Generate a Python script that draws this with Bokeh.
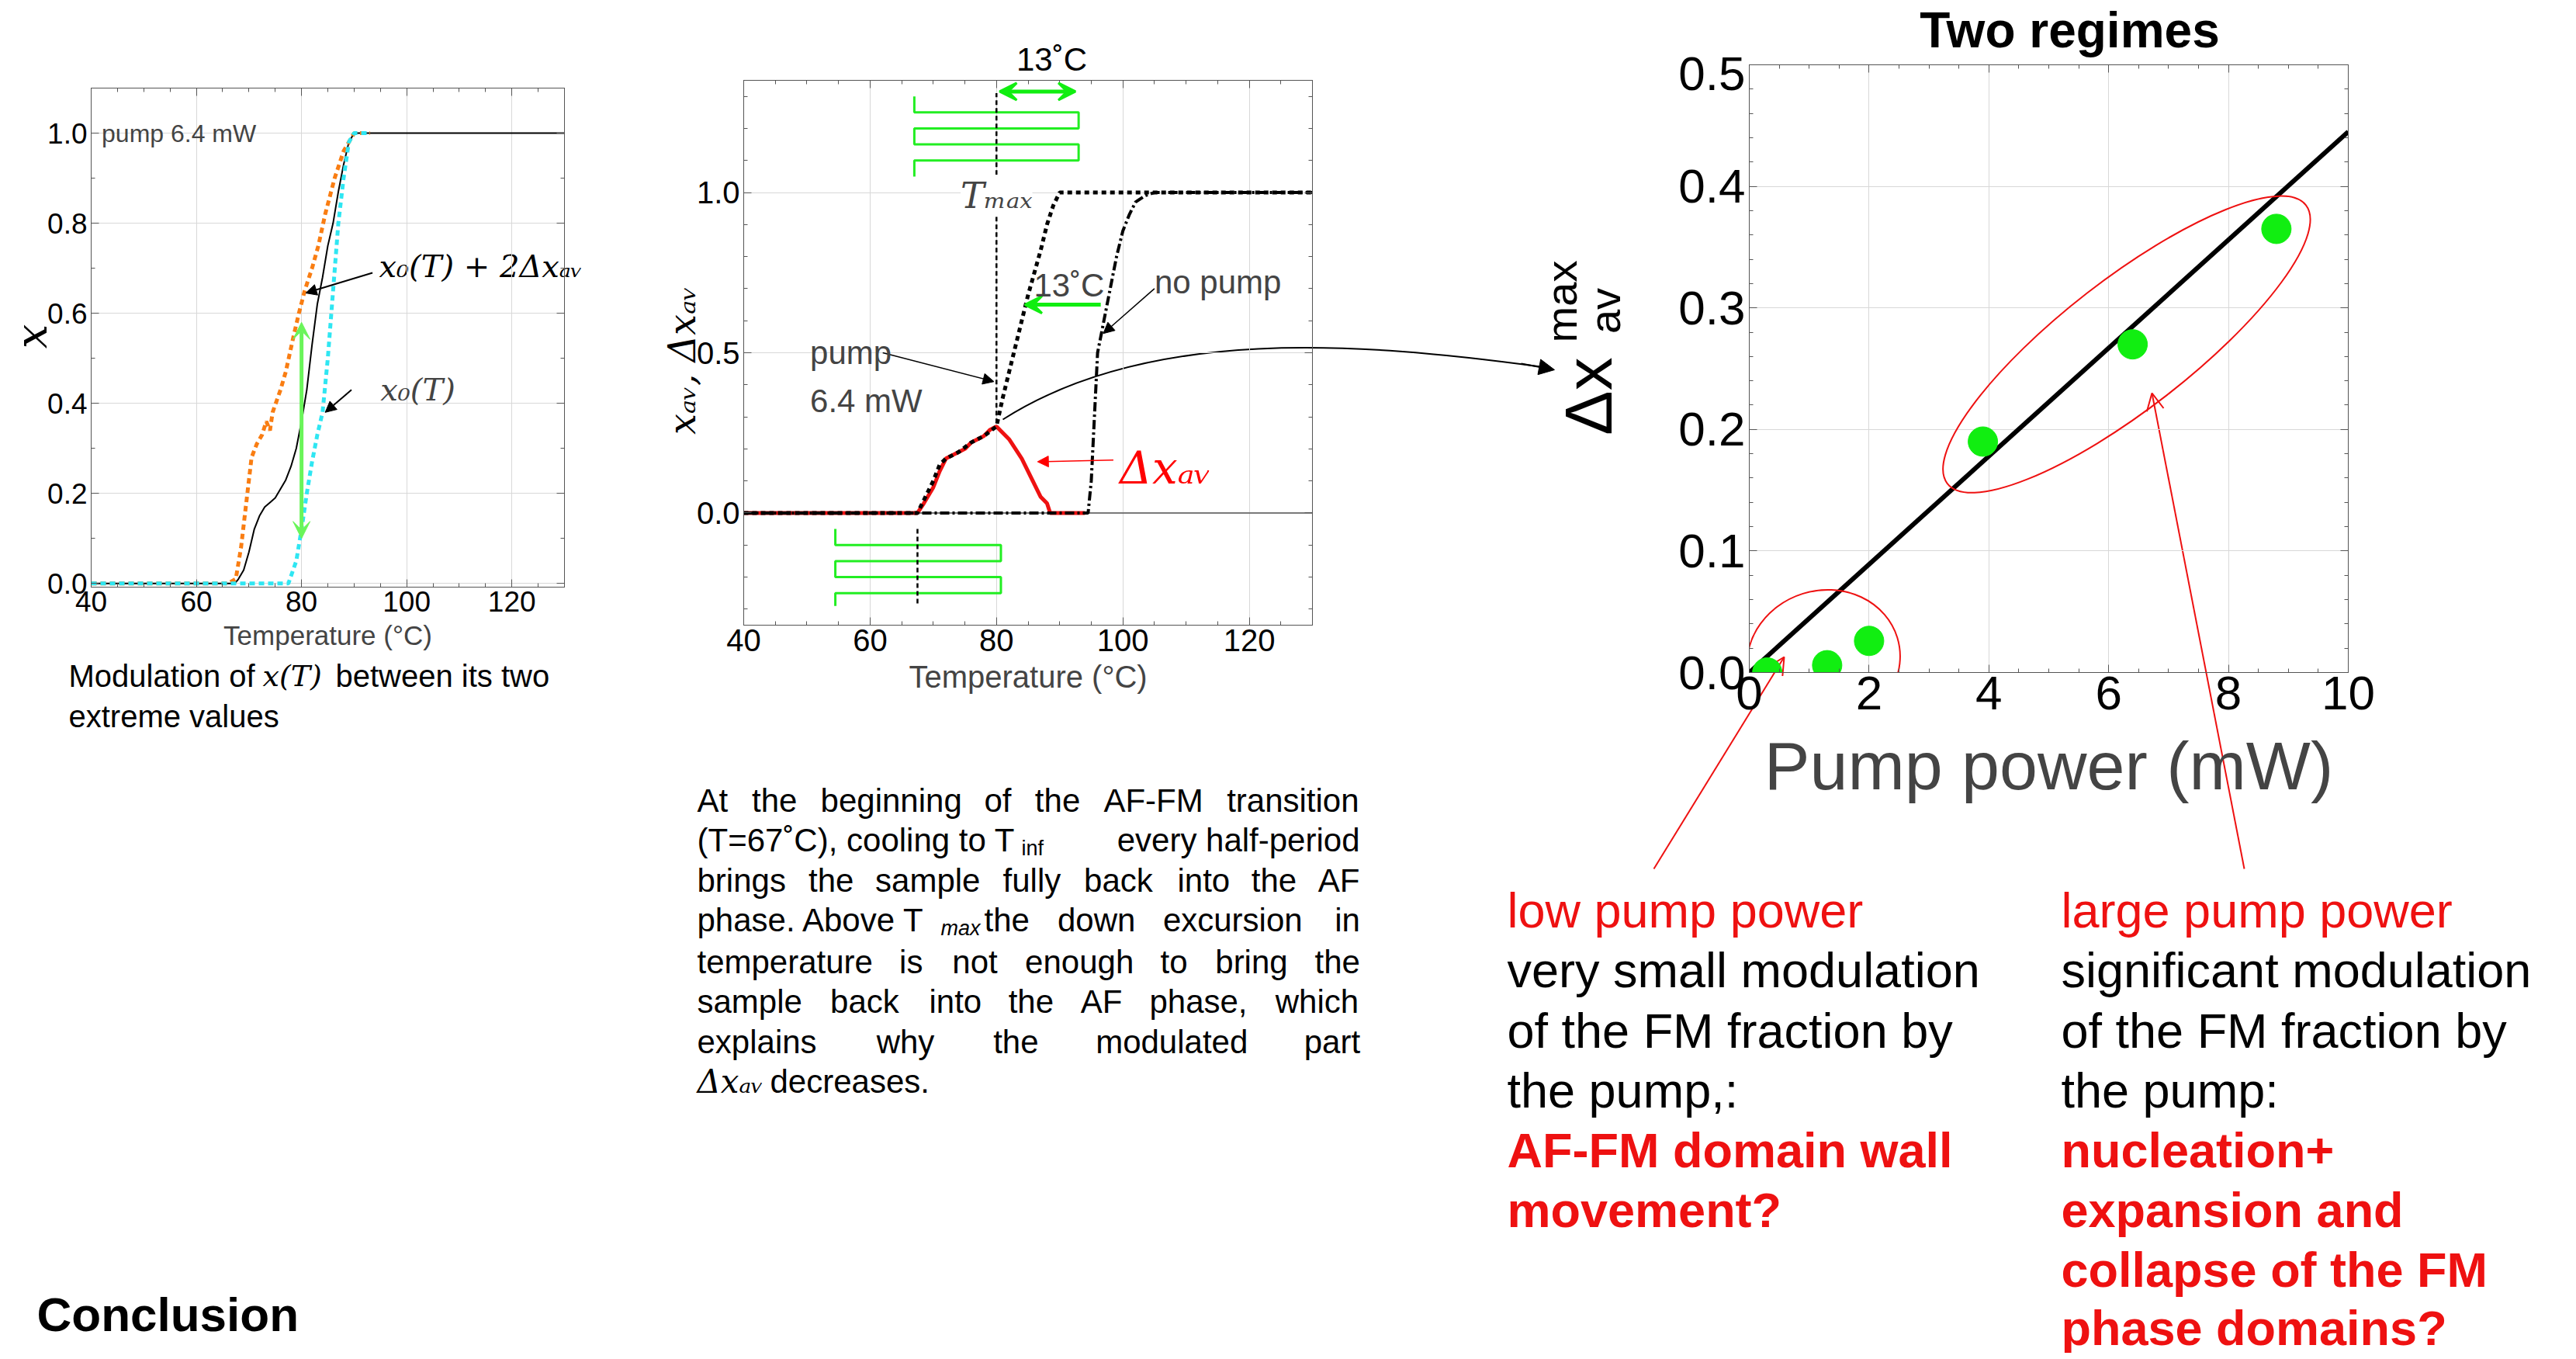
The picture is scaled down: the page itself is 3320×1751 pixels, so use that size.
import numpy as np
from bokeh.plotting import figure
from bokeh.models import (Range1d, FixedTicker, LinearAxis, Arrow, NormalHead, OpenHead,
                          VeeHead, Label, NumeralTickFormatter)
from bokeh.core.properties import value
from bokeh.embed import file_html
from bokeh.resources import INLINE

SANS = "Liberation Sans"
SERIF = "DejaVu Serif"

# ---- left panel: x(T) curves at pump 6.4 mW ----
t_x0_pump = [40, 67.3, 68, 69, 70, 71, 72, 73, 74, 75, 76, 77, 78, 79, 80, 81, 82, 83, 84, 85, 86, 87, 88, 89, 90, 130]
x_x0_pump = [0, 0, 0.01, 0.03, 0.07, 0.12, 0.15, 0.17, 0.18, 0.19, 0.21, 0.23, 0.26, 0.30, 0.36, 0.43, 0.53, 0.62, 0.68, 0.75, 0.80, 0.87, 0.93, 0.98, 1.0, 1.0]
t_upper = [40, 66, 67.5, 68.5, 69.5, 70.5, 71.5, 72.5, 73.3, 74, 74.5, 76, 77, 78.5, 79.5, 80.6, 82, 83.2, 84.5, 86.3, 88, 90, 93]
x_upper = [0, 0, 0.01, 0.08, 0.18, 0.28, 0.31, 0.33, 0.36, 0.34, 0.38, 0.43, 0.47, 0.55, 0.60, 0.65, 0.70, 0.75, 0.82, 0.90, 0.96, 1.0, 1.0]
t_x0 = [40, 77.5, 79, 80, 81, 82, 83, 84, 85, 86, 87, 88, 89, 90, 93]
x_x0 = [0, 0, 0.05, 0.12, 0.20, 0.27, 0.33, 0.38, 0.50, 0.65, 0.80, 0.90, 0.98, 1.0, 1.0]

# ---- middle panel: x_av and delta x_av ----
t_pump = [40, 67.5, 68, 70, 71, 72, 74, 76, 78, 80, 81, 82, 83, 84, 85, 86, 87, 88, 89, 90, 130]
x_pump = [0, 0, 0.02, 0.10, 0.15, 0.17, 0.19, 0.22, 0.24, 0.27, 0.36, 0.44, 0.52, 0.60, 0.68, 0.75, 0.82, 0.90, 0.96, 1.0, 1.0]
t_nopump = [40, 94.5, 95, 95.5, 96, 97, 98, 99, 100, 101, 102, 103.5, 105, 130]
x_nopump = [0, 0, 0.10, 0.30, 0.50, 0.60, 0.70, 0.80, 0.88, 0.93, 0.97, 0.99, 1.0, 1.0]
t_dx = [40, 67.5, 68.5, 70, 71, 72, 73, 74, 75, 76, 77, 78, 79, 80, 81, 82, 83, 84, 85, 86, 87, 88, 88.5, 94]
dx = [0, 0, 0.03, 0.08, 0.13, 0.17, 0.18, 0.19, 0.20, 0.22, 0.23, 0.24, 0.26, 0.27, 0.25, 0.23, 0.20, 0.17, 0.13, 0.09, 0.05, 0.03, 0, 0]
meander_top_t = [67, 67, 93, 93, 67, 67, 93, 93, 67, 67]
meander_top_y = [1.30, 1.25, 1.25, 1.20, 1.20, 1.15, 1.15, 1.10, 1.10, 1.05]
meander_bot_t = [54.5, 54.5, 80.7, 80.7, 54.5, 54.5, 80.7, 80.7, 54.5, 54.5]
meander_bot_y = [-0.05, -0.10, -0.10, -0.15, -0.15, -0.20, -0.20, -0.25, -0.25, -0.29]

# ---- right panel: modulation vs pump power ----
power = [0.3, 1.3, 2.0, 3.9, 6.4, 8.8]
dx_max = [0.0, 0.006, 0.026, 0.19, 0.27, 0.365]
fit_p = [0, 10]
fit_dx = [0, 0.445]

GREY = "#555555"


def style(p, xt, xminor, yt, yminor, tick_size, xlabel, xlabel_size, standoff=8):
    bx, ly = p.below[0], p.left[0]
    bx.ticker = FixedTicker(ticks=xt, minor_ticks=xminor)
    ly.ticker = FixedTicker(ticks=yt, minor_ticks=yminor)
    ly.formatter = NumeralTickFormatter(format="0.0")
    for ax in (bx, ly):
        ax.major_label_text_font = SANS
        ax.major_label_text_font_size = tick_size
        ax.major_label_text_color = "black"
        ax.axis_line_color = GREY
        ax.major_tick_in, ax.major_tick_out = 10, 0
        ax.minor_tick_in, ax.minor_tick_out = 5, 0
        ax.major_tick_line_color = GREY
        ax.minor_tick_line_color = GREY
    bx.axis_label = xlabel
    bx.axis_label_text_font = SANS
    bx.axis_label_text_font_style = "normal"
    bx.axis_label_text_font_size = xlabel_size
    bx.axis_label_standoff = standoff
    for side, tk, mn in (("right", yt, yminor), ("above", xt, xminor)):
        ax = LinearAxis(ticker=FixedTicker(ticks=tk, minor_ticks=mn),
                        major_label_text_font_size="0px", major_tick_in=10, major_tick_out=0,
                        minor_tick_in=5, minor_tick_out=0, axis_line_color=GREY,
                        major_tick_line_color=GREY, minor_tick_line_color=GREY,
                        major_label_standoff=0)
        p.add_layout(ax, side)
    p.xgrid.ticker = FixedTicker(ticks=xt)
    p.ygrid.ticker = FixedTicker(ticks=yt)
    p.grid.grid_line_color = "#d8d8d8"
    p.outline_line_color = GREY
    p.background_fill_alpha = 0
    p.border_fill_alpha = 0


def place(p, left, top):
    # each figure is its own root; positions are in screenshot pixels
    p.styles = {"position": "absolute", "left": f"{left}px", "top": f"{top}px"}


# background canvas, screenshot pixel coordinates
bg = figure(frame_width=3304, frame_height=1735, x_range=Range1d(8, 3312), y_range=Range1d(1743, 8),
            output_backend="svg", toolbar_location=None, x_axis_location=None, y_axis_location=None,
            min_border_left=0, min_border_right=0, min_border_top=0, min_border_bottom=0)
bg.grid.visible = False
bg.outline_line_color = None
place(bg, 8, 8)


def txt(x, y, s, size, color="black", font=SANS, style="normal", align="left", angle=0.0):
    bg.text(x=[x], y=[y - 10], text=[s], text_font=value(font), text_font_size=value(f"{size}px"),
            text_color=color, text_font_style=style, text_align=align,
            text_baseline="middle", angle=angle)


NARROW = {"i": 0.22, "l": 0.22, "j": 0.22, "t": 0.28, "f": 0.28, "r": 0.33, "-": 0.33,
          ".": 0.28, ",": 0.28, "(": 0.33, ")": 0.33, "m": 0.83, "w": 0.72, "M": 0.83,
          "A": 0.67, "F": 0.61, "T": 0.61}


def text_width(s, size):
    return sum(NARROW.get(c, 0.67 if c.isupper() else 0.55) for c in s) * size


def justify(x0, x1, y, line, size):
    # spread words over [x0, x1] like justified text
    words = line.split()
    widths = [text_width(w, size) for w in words]
    gap = (x1 - x0 - sum(widths)) / max(len(words) - 1, 1)
    x = x0
    for w, wd in zip(words, widths):
        txt(x, y, w, size)
        x += wd + gap


# ---------- left figure ----------
f1 = figure(width=730, height=773, x_range=Range1d(40, 130), y_range=Range1d(-0.008, 1.1),
            output_backend="svg", toolbar_location=None,
            min_border_left=100, min_border_right=20, min_border_top=20, min_border_bottom=110)
style(f1, [40, 60, 80, 100, 120], list(range(40, 131, 5)), [0, 0.2, 0.4, 0.6, 0.8, 1.0],
      [i / 10 for i in range(0, 12)], "37px", "Temperature (°C)", "35px")
f1.line(t_x0_pump, x_x0_pump, color="black", line_width=2)
f1.line(t_upper, x_upper, color="#f97d12", line_width=5, line_dash="7 5")
f1.line(t_x0, x_x0, color="#2fe6f2", line_width=5, line_dash="7 5")
f1.add_layout(Arrow(end=VeeHead(size=22, line_color="#6af55a", fill_color="#6af55a"),
                    start=VeeHead(size=22, line_color="#6af55a", fill_color="#6af55a"),
                    x_start=80, y_start=0.1, x_end=80, y_end=0.58, line_color="#6af55a", line_width=5))
f1.add_layout(Arrow(end=NormalHead(size=14, fill_color="black"), x_start=93.5, y_start=0.69,
                    x_end=80.8, y_end=0.645, line_width=2))
f1.add_layout(Arrow(end=NormalHead(size=14, fill_color="black"), x_start=89.5, y_start=0.43,
                    x_end=84.5, y_end=0.38, line_width=2))
f1.add_layout(Label(x=42, y=1.0, text="pump 6.4 mW", text_font=SANS, text_font_size="32px",
                    text_baseline="middle"))
f1.add_layout(Label(x=95, y=0.43, text="x₀(T)", text_font=SERIF, text_font_style="italic",
                    text_font_size="40px", text_baseline="middle"))
place(f1, 17, 93)

# ---------- middle figure ----------
f2 = figure(width=883, height=842, x_range=Range1d(40, 130), y_range=Range1d(-0.35, 1.35),
            output_backend="svg", toolbar_location=None,
            min_border_left=130, min_border_right=20, min_border_top=20, min_border_bottom=120)
style(f2, [40, 60, 80, 100, 120], list(range(40, 131, 5)), [0, 0.5, 1.0],
      [round(i / 10, 1) for i in range(-3, 14)], "40px", "Temperature (°C)", "40px")
f2.line([40, 130], [0, 0], color=GREY, line_width=1.5)
f2.line(meander_top_t, meander_top_y, color="#22ee22", line_width=3)
f2.line(meander_bot_t, meander_bot_y, color="#22ee22", line_width=3)
f2.line([80, 80], [0.28, 1.31], color="black", line_width=2.5, line_dash="6 4")
f2.line([67.5, 67.5], [-0.05, -0.29], color="black", line_width=2.5, line_dash="6 4")
f2.line(t_dx, dx, color="#ee1111", line_width=5)
f2.line(t_nopump, x_nopump, color="black", line_width=4, line_dash="12 4 3 4")
f2.line(t_pump, x_pump, color="black", line_width=5, line_dash="6 5")
green = "#11ee11"
f2.add_layout(Arrow(start=VeeHead(size=22, line_color=green, fill_color=green, line_width=3),
                    end=VeeHead(size=22, line_color=green, fill_color=green, line_width=3),
                    x_start=80.5, y_start=1.315, x_end=92.5, y_end=1.315, line_color=green, line_width=5))
f2.add_layout(Arrow(end=VeeHead(size=22, line_color=green, fill_color=green, line_width=3),
                    x_start=96.5, y_start=0.65, x_end=84.5, y_end=0.65, line_color=green, line_width=5))
f2.add_layout(Arrow(end=NormalHead(size=14, fill_color="black"), x_start=62, y_start=0.5,
                    x_end=79.6, y_end=0.41, line_width=1.5))
f2.add_layout(Arrow(end=NormalHead(size=14, fill_color="black"), x_start=105, y_start=0.7,
                    x_end=96.9, y_end=0.56, line_width=1.5))
f2.add_layout(Arrow(end=NormalHead(size=14, fill_color="red", line_color="red"), x_start=98.5,
                    y_start=0.165, x_end=86.5, y_end=0.16, line_width=1.5, line_color="red"))
f2.add_layout(Label(x=91.5, y=0.71, text="13˚C", text_font=SANS, text_font_size="42px",
                    text_align="center", text_baseline="middle"))
f2.add_layout(Label(x=105, y=0.72, text="no pump", text_font=SANS, text_font_size="42px",
                    text_baseline="middle"))
f2.add_layout(Label(x=50.5, y=0.5, text="pump", text_font=SANS, text_font_size="42px",
                    text_baseline="middle"))
f2.add_layout(Label(x=50.5, y=0.35, text="6.4 mW", text_font=SANS, text_font_size="42px",
                    text_baseline="middle"))
f2.add_layout(Label(x=80, y=0.99, text="Tₘₐₓ", text_font=SERIF, text_font_style="italic",
                    text_font_size="46px", text_align="center", text_baseline="middle",
                    background_fill_color="white"))
f2.add_layout(Label(x=99.5, y=0.14, text="Δxₐᵥ", text_font=SERIF, text_font_style="italic",
                    text_font_size="58px", text_color="red", text_baseline="middle"))
place(f2, 828, 83)

# ---------- right figure ----------
f3 = figure(width=962, height=1000, x_range=Range1d(0, 10), y_range=Range1d(0, 0.5),
            output_backend="svg", toolbar_location=None,
            min_border_left=150, min_border_right=40, min_border_top=10, min_border_bottom=207)
style(f3, [0, 2, 4, 6, 8, 10], [i / 2 for i in range(0, 21)], [0, 0.1, 0.2, 0.3, 0.4, 0.5],
      [i / 50 for i in range(0, 26)], "62px", "Pump power (mW)", "88px", standoff=20)
f3.line(fit_p, fit_dx, color="black", line_width=6)
f3.scatter(power, dx_max, size=38, color="#11ee11")
f3.ellipse(x=[1.24, 6.3], y=[0.01, 0.27], width=[199, 585], height=[180, 167],
           angle=[0.3, 0.66], width_units="screen", height_units="screen",
           fill_alpha=0, line_color="#ee1111", line_width=2)
place(f3, 2104, 73)

# ---------- background texts and arrows ----------
txt(40, 443, "x", 56, font=SERIF, style="italic", align="center", angle=np.pi / 2)
txt(488, 352, "x₀(T) + 2Δxₐᵥ", 40, font=SERIF, style="italic")
txt(878, 474, "xₐᵥ, Δxₐᵥ", 48, font=SERIF, style="italic", align="center", angle=np.pi / 2)
txt(88, 880, "Modulation of", 40)
txt(338, 880, "x(T)", 38, font=SERIF, style="italic")
txt(432, 880, "between its two", 40)
txt(88, 932, "extreme values", 40)
txt(47, 1703, "Conclusion", 62, style="bold")
txt(1355, 86, "13˚C", 42, align="center")

PX0, PX1 = 898, 1752
para_y = [1041, 1092, 1144, 1195, 1249, 1300, 1352, 1403]
justify(PX0, PX1, para_y[0], "At the beginning of the AF-FM transition", 42)
txt(PX0, para_y[1], "(T=67˚C), cooling to T", 42)
txt(1316, para_y[1] + 10, "inf", 27)
txt(PX1, para_y[1], "every half-period", 42, align="right")
justify(PX0, PX1, para_y[2], "brings the sample fully back into the AF", 42)
txt(PX0, para_y[3], "phase. Above  T", 42)
txt(1212, para_y[3] + 10, "max", 27, style="italic")
justify(1268, PX1, para_y[3], "the down excursion in", 42)
justify(PX0, PX1, para_y[4], "temperature is not enough to bring the", 42)
justify(PX0, PX1, para_y[5], "sample back into the AF phase, which", 42)
justify(PX0, PX1, para_y[6], "explains why the modulated part", 42)
txt(PX0, para_y[7], "Δxₐᵥ", 42, font=SERIF, style="italic")
txt(992, para_y[7], "decreases.", 42)

txt(2667, 48, "Two regimes", 64, style="bold", align="center")
txt(2046, 520, "Δx", 86, align="center", angle=np.pi / 2)
txt(2012, 398, "max", 56, align="center", angle=np.pi / 2)
txt(2068, 410, "av", 56, align="center", angle=np.pi / 2)

ly = [1182, 1259, 1337, 1414, 1491, 1568, 1645, 1720]
left_lines = [("low pump power", "red", "normal"), ("very small modulation", "black", "normal"),
              ("of the FM fraction by", "black", "normal"), ("the pump,:", "black", "normal"),
              ("AF-FM domain wall", "red", "bold"), ("movement?", "red", "bold")]
right_lines = [("large pump power", "red", "normal"), ("significant modulation", "black", "normal"),
               ("of the FM fraction by", "black", "normal"), ("the pump:", "black", "normal"),
               ("nucleation+", "red", "bold"), ("expansion and", "red", "bold"),
               ("collapse of the FM", "red", "bold"), ("phase domains?", "red", "bold")]
for i, (s, c, st) in enumerate(left_lines):
    txt(1942, ly[i], s, 63, color="#ee1111" if c == "red" else c, style=st)
for i, (s, c, st) in enumerate(right_lines):
    txt(2656, ly[i], s, 63, color="#ee1111" if c == "red" else c, style=st)

bg.add_layout(Arrow(end=OpenHead(size=22, line_color="#ee1111", line_width=2), x_start=2131, y_start=1119,
                    x_end=2299, y_end=846, line_color="#ee1111", line_width=2))
bg.add_layout(Arrow(end=OpenHead(size=22, line_color="#ee1111", line_width=2), x_start=2892, y_start=1119,
                    x_end=2773, y_end=506, line_color="#ee1111", line_width=2))
bg.bezier(x0=[1292], y0=[540], x1=[1985], y1=[472], cx0=[1480], cy0=[420], cx1=[1750], cy1=[440],
          line_color="black", line_width=2)
bg.add_layout(Arrow(end=NormalHead(size=20, fill_color="black"), x_start=1960, y_start=468,
                    x_end=2003, y_end=476, line_width=2))

open("out.html", "w").write(file_html([bg, f1, f2, f3], INLINE))
